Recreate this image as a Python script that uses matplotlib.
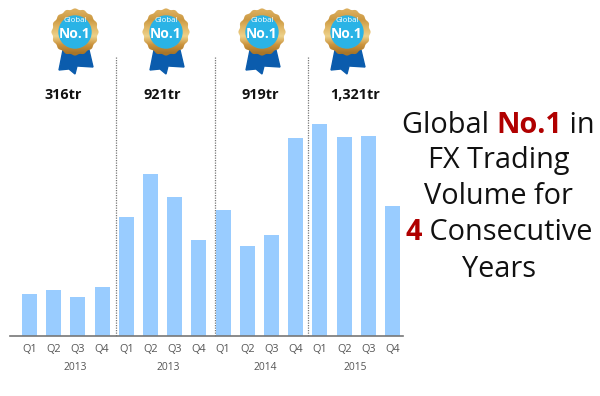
import numpy as np
import matplotlib
matplotlib.use("Agg")
import matplotlib.pyplot as plt
from matplotlib.patches import Circle, Polygon

plt.rcParams['font.family'] = ['Open Sans', 'DejaVu Sans']

quarters = ["Q1", "Q2", "Q3", "Q4"] * 4
volumes = [42, 46, 39, 49, 119, 162, 139, 96, 126, 90, 101, 198, 212, 199, 200, 130]
years = ["2013", "2013", "2014", "2015"]
year_x = [1.9, 5.75, 9.75, 13.47]
totals = ["316tr", "921tr", "919tr", "1,321tr"]
total_x = [63, 162, 260, 355]
medal_x = [75, 166, 262, 347]
divider_x = [116, 215, 308]

W, H = 600, 396
fig = plt.figure(figsize=(W / 100, H / 100), dpi=100)

# page layer in pixel coords, everything that is not a bar goes here
page = fig.add_axes([0, 0, 1, 1])
page.set_xlim(0, W)
page.set_ylim(H, 0)
page.axis("off")

# bars
ax = fig.add_axes([9.5 / W, (H - 336) / H, 394 / W, 236 / H])
ax.patch.set_alpha(0)
x = np.arange(16)
ax.bar(x, volumes, width=0.62, color="#99CCFF")
ax.set_xlim(-0.826, 15.45)
ax.set_ylim(0, 236)
ax.set_yticks([])
ax.set_xticks(x)
ax.set_xticklabels(quarters, fontsize=7.8, color="#555555")
ax.tick_params(axis="x", length=0, pad=6)
for s in ["top", "left", "right"]:
    ax.spines[s].set_visible(False)
ax.spines["bottom"].set_color("#777777")
ax.spines["bottom"].set_linewidth(1.2)

for i in range(len(years)):
    ax.annotate(years[i], (year_x[i], 0), xycoords=("data", "axes fraction"),
                xytext=(0, -26), textcoords="offset pixels", ha="center", va="top",
                fontsize=7.4, color="#555555")

for d in divider_x:
    page.plot([d, d], [57, 336], color="#777777", lw=0.9, ls=(0, (1, 1)))

for i in range(len(totals)):
    page.text(total_x[i], 95, totals[i], ha="center", va="center",
              fontsize=10.4, fontweight="bold", color="#111111")


def draw_medal(cx, cy=32):
    # ribbon first, the gold disc sits on top of it
    ribbon = [(cx - 12, 50), (cx - 16, 70), (cx - 6, 69), (cx, 74), (cx + 2, 66),
              (cx + 18, 67), (cx + 14, 50)]
    page.add_patch(Polygon(ribbon, closed=True, color="#0B5CAD", zorder=2))
    t = np.linspace(0, 2 * np.pi, 200)
    r = 23 + 0.6 * np.cos(16 * t)
    edge = Polygon(np.c_[cx + r * np.cos(t), cy + r * np.sin(t)], closed=True,
                   fc="none", ec="none", zorder=3)
    page.add_patch(edge)
    grad = np.array([[0.86, 0.68, 0.36], [0.80, 0.60, 0.26], [0.88, 0.72, 0.40],
                     [0.93, 0.82, 0.54], [0.80, 0.58, 0.24], [0.66, 0.46, 0.16]])
    im = page.imshow(grad[:, None, :], extent=(cx - 25, cx + 25, cy + 25, cy - 25),
                     aspect="auto", interpolation="bilinear", zorder=3)
    im.set_clip_path(edge)
    page.add_patch(Circle((cx, cy), 16, color="#2AB3E6", zorder=4))
    page.text(cx, cy - 11, "Global", ha="center", va="center", fontsize=5.6,
              color="white", zorder=5)
    page.text(cx, cy + 2, "No.1", ha="center", va="center", fontsize=10,
              fontweight="bold", color="white", zorder=5)


for m in medal_x:
    draw_medal(m)
page.set_xlim(0, W)
page.set_ylim(H, 0)

# right hand headline, each line is a list of (text, bold)
head_lines = [
    [("Global ", False), ("No.1", True), (" in", False)],
    [("FX Trading", False)],
    [("Volume for", False)],
    [("4", True), (" Consecutive", False)],
    [("Years", False)],
]
head_y = [133, 168, 204, 240, 277]
head_cx = 498.5
renderer = fig.canvas.get_renderer()
for line, y in zip(head_lines, head_y):
    items = []
    for s, bold in line:
        t = page.text(0, y, s.replace(" ", "\u00a0"), fontsize=20.8, va="baseline", ha="left",
                      fontweight="bold" if bold else "normal",
                      color="#B00000" if bold else "#111111")
        items.append(t)
    widths = [t.get_window_extent(renderer).width for t in items]
    pos = head_cx - sum(widths) / 2
    for t, w in zip(items, widths):
        t.set_x(pos)
        pos += w

fig.savefig("out.png", dpi=100)
